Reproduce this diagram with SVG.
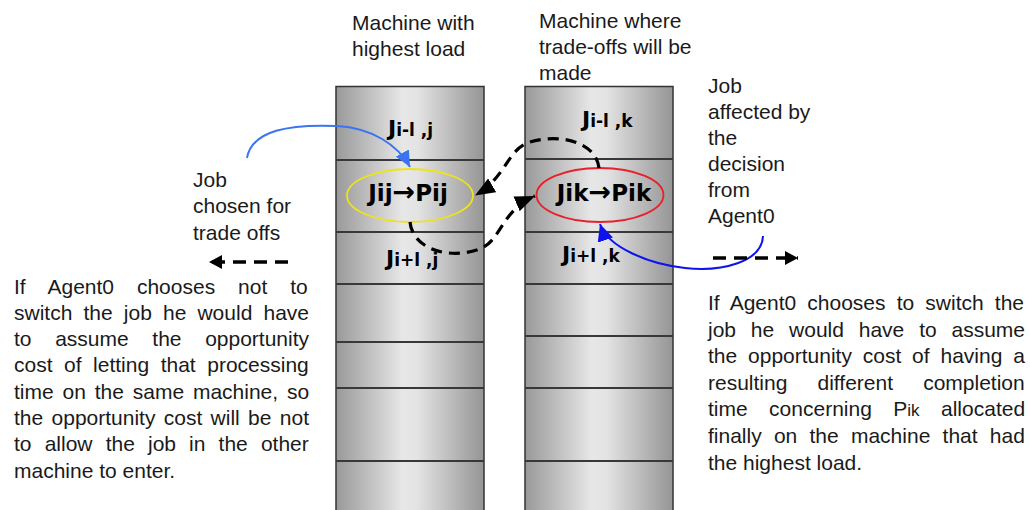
<svg xmlns="http://www.w3.org/2000/svg" width="1030" height="510" viewBox="0 0 1030 510">
  <style>
    .txt { font-family: "Liberation Sans", Arial, sans-serif; font-size: 21px; fill: #1a1a1a; }
    .job { font-family: "DejaVu Sans", Verdana, sans-serif; font-weight: bold; fill: #000; }
    .col { fill: url(#metal); stroke: #333; stroke-width: 1.5; }
    .sep { stroke: #383838; stroke-width: 2; }
    .dash { fill: none; stroke: #000; stroke-width: 3.2; stroke-dasharray: 11 7; }
    .dashS { fill: none; stroke: #000; stroke-width: 3.4; stroke-dasharray: 13 8; }
  </style>
  <defs>
    <linearGradient id="metal" x1="0" y1="0" x2="1" y2="0">
      <stop offset="0" stop-color="#999"/>
      <stop offset="0.45" stop-color="#e7e7e7"/>
      <stop offset="0.55" stop-color="#e3e3e3"/>
      <stop offset="1" stop-color="#959595"/>
    </linearGradient>
    <marker id="headBlack" viewBox="0 0 20 16" refX="20" refY="8" markerWidth="20" markerHeight="16" markerUnits="userSpaceOnUse" orient="auto">
      <path d="M0,0 L20,8 L0,16 z" fill="#000"/>
    </marker>
    <marker id="headSmall" viewBox="0 0 13 14" refX="13" refY="7" markerWidth="13" markerHeight="14" markerUnits="userSpaceOnUse" orient="auto">
      <path d="M0,0 L13,7 L0,14 z" fill="#000"/>
    </marker>
    <marker id="headLight" viewBox="0 0 16 15" refX="16" refY="7.5" markerWidth="16" markerHeight="15" markerUnits="userSpaceOnUse" orient="auto">
      <path d="M0,0 L16,7.5 L0,15 z" fill="#3b74f2"/>
    </marker>
    <marker id="headBlue" viewBox="0 0 17 16" refX="17" refY="8" markerWidth="17" markerHeight="16" markerUnits="userSpaceOnUse" orient="auto">
      <path d="M0,0 L17,8 L0,16 z" fill="#0f12f0"/>
    </marker>
  </defs>

  <rect width="1030" height="510" fill="#fff"/>

  <!-- column headings -->
  <g id="title-high">
    <text class="txt" x="352" y="29.5">Machine with</text>
    <text class="txt" x="352" y="55.5">highest load</text>
  </g>
  <g id="title-trade">
    <text class="txt" x="539" y="27.5">Machine where</text>
    <text class="txt" x="539" y="53.5">trade-offs will be</text>
    <text class="txt" x="539" y="80">made</text>
  </g>

  <!-- machine with the highest load -->
  <g id="machine-high">
    <rect class="col" x="336" y="86.5" width="148" height="440"/>
    <line class="sep" x1="336" y1="160" x2="484" y2="160"/>
    <line class="sep" x1="336" y1="232" x2="484" y2="232"/>
    <line class="sep" x1="336" y1="284" x2="484" y2="284"/>
    <line class="sep" x1="336" y1="342" x2="484" y2="342"/>
    <line class="sep" x1="336" y1="388" x2="484" y2="388"/>
    <line class="sep" x1="336" y1="461" x2="484" y2="461"/>
    <text class="job" x="388" y="136"><tspan font-size="22">J</tspan><tspan font-size="17">i-l ,j</tspan></text>
    <text class="job" x="386" y="266"><tspan font-size="22">J</tspan><tspan font-size="17">i+l ,j</tspan></text>
  </g>

  <!-- machine where trade-offs are made -->
  <g id="machine-trade">
    <rect class="col" x="525" y="86.5" width="148" height="440"/>
    <line class="sep" x1="525" y1="159" x2="673" y2="159"/>
    <line class="sep" x1="525" y1="232" x2="673" y2="232"/>
    <line class="sep" x1="525" y1="284" x2="673" y2="284"/>
    <line class="sep" x1="525" y1="336" x2="673" y2="336"/>
    <line class="sep" x1="525" y1="388" x2="673" y2="388"/>
    <line class="sep" x1="525" y1="461" x2="673" y2="461"/>
    <text class="job" x="582" y="127"><tspan font-size="22">J</tspan><tspan font-size="17">i-l ,k</tspan></text>
    <text class="job" x="562" y="262"><tspan font-size="22">J</tspan><tspan font-size="17">i+l ,k</tspan></text>
  </g>

  <!-- selected jobs -->
  <g id="job-ij">
    <ellipse cx="410" cy="195.5" rx="63" ry="26.5" fill="none" stroke="#eee21a" stroke-width="1.8"/>
    <text class="job" x="408" y="201" font-size="23" text-anchor="middle">Jij<tspan font-size="27">→</tspan>Pij</text>
  </g>
  <g id="job-ik">
    <ellipse cx="600" cy="195" rx="63.5" ry="27" fill="none" stroke="#e8202a" stroke-width="1.8"/>
    <text class="job" x="604" y="201" font-size="23" text-anchor="middle">Jik<tspan font-size="27">→</tspan>Pik</text>
  </g>

  <!-- side notes -->
  <g id="note-chosen">
    <text class="txt" x="193" y="187">Job</text>
    <text class="txt" x="193" y="213">chosen for</text>
    <text class="txt" x="193" y="240">trade offs</text>
  </g>
  <g id="note-affected">
    <text class="txt" x="708" y="92.5">Job</text>
    <text class="txt" x="708" y="119">affected by</text>
    <text class="txt" x="708" y="145">the</text>
    <text class="txt" x="708" y="171">decision</text>
    <text class="txt" x="708" y="197">from</text>
    <text class="txt" x="708" y="223">Agent0</text>
  </g>

  <!-- justified paragraph, left -->
  <g id="note-keep">
    <text class="txt" x="14" y="293.5" word-spacing="17.1">If Agent0 chooses not to</text>
    <text class="txt" x="14" y="319.8" word-spacing="5.3">switch the job he would have</text>
    <text class="txt" x="14" y="346" word-spacing="17.8">to assume the opportunity</text>
    <text class="txt" x="14" y="372.4" word-spacing="5.7">cost of letting that processing</text>
    <text class="txt" x="14" y="398.7" word-spacing="3">time on the same machine, so</text>
    <text class="txt" x="14" y="425" word-spacing="2.5">the opportunity cost will be not</text>
    <text class="txt" x="14" y="451.3" word-spacing="7.3">to allow the job in the other</text>
    <text class="txt" x="14" y="477.6">machine to enter.</text>
  </g>

  <!-- justified paragraph, right -->
  <g id="note-switch">
    <text class="txt" x="708" y="310" word-spacing="5.3">If Agent0 chooses to switch the</text>
    <text class="txt" x="708" y="336.6" word-spacing="9">job he would have to assume</text>
    <text class="txt" x="708" y="363.2" word-spacing="5">the opportunity cost of having a</text>
    <text class="txt" x="708" y="389.8" word-spacing="24.3">resulting different completion</text>
    <text class="txt" x="708" y="416.4" word-spacing="15.6">time concerning P<tspan font-size="17">ik</tspan> allocated</text>
    <text class="txt" x="708" y="443" word-spacing="6.4">finally on the machine that had</text>
    <text class="txt" x="708" y="469.6">the highest load.</text>
  </g>

  <!-- connectors -->
  <g id="connectors">
    <path d="M247,158 C252,130 290,124 337,126 C372,128 398,145 410,167" fill="none" stroke="#3b74f2" stroke-width="2" marker-end="url(#headLight)"/>
    <path d="M763,236 C762,262 722,272 685,268 C650,264 608,248 600,224" fill="none" stroke="#0f12f0" stroke-width="2" marker-end="url(#headBlue)"/>
    <path class="dash" d="M599,168 C596,142 560,133 530,142 C506,150 508,176 475,195.5" marker-end="url(#headBlack)"/>
    <path class="dash" d="M410,222 C413,252 455,260 482,248 C502,238 502,210 535,196" marker-end="url(#headBlack)"/>
    <path class="dashS" d="M288,262 L209,262" marker-end="url(#headSmall)"/>
    <path class="dashS" d="M713,258 L798,258" marker-end="url(#headSmall)"/>
  </g>
</svg>
